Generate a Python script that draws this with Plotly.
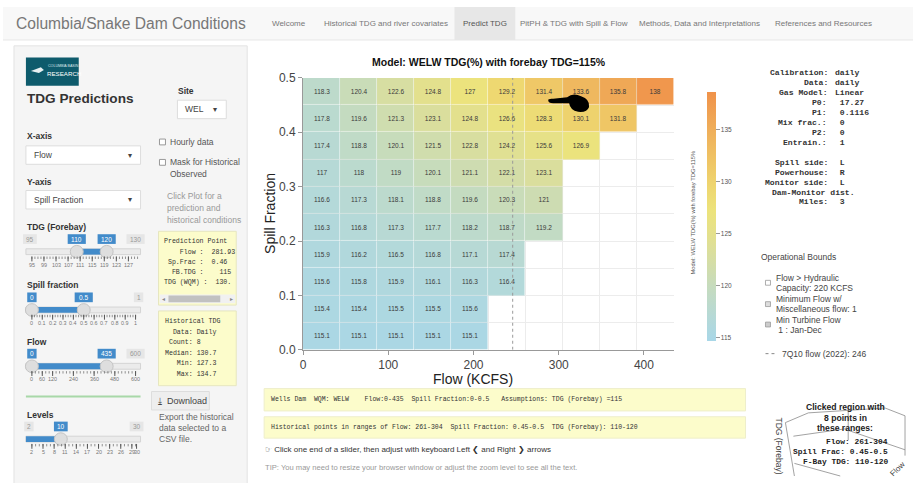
import plotly.graph_objects as go

W, H = 913, 483
SANS = "Liberation Sans, Arial, sans-serif"
MONO = "Liberation Mono, Courier New, monospace"

# ---------------- model grid (Wells Dam, WQM WELW, forebay TDG 115 %) ----------------
flow_edges = [0, 43.5, 87, 130.5, 174, 217.5, 261, 304.5, 348, 391.5, 435]
spill_edges = [0.0, 0.05, 0.10, 0.15, 0.20, 0.25, 0.30, 0.35, 0.40, 0.45, 0.50]

# predicted tailwater TDG (%) for each spill-fraction band, flow bins left to right
tdg_spill_00 = [115.1, 115.1, 115.1, 115.1, 115.1]
tdg_spill_05 = [115.4, 115.4, 115.5, 115.5, 115.6]
tdg_spill_10 = [115.6, 115.8, 115.9, 116.1, 116.3, 116.4]
tdg_spill_15 = [115.9, 116.2, 116.5, 116.8, 117.1, 117.4]
tdg_spill_20 = [116.3, 116.8, 117.3, 117.7, 118.2, 118.7, 119.2]
tdg_spill_25 = [116.6, 117.3, 118.1, 118.8, 119.6, 120.3, 121]
tdg_spill_30 = [117, 118, 119, 120.1, 121.1, 122.1, 123.1]
tdg_spill_35 = [117.4, 118.8, 120.1, 121.5, 122.8, 124.2, 125.6, 126.9]
tdg_spill_40 = [117.8, 119.6, 121.3, 123.1, 124.8, 126.6, 128.3, 130.1, 131.8]
tdg_spill_45 = [118.3, 120.4, 122.6, 124.8, 127, 129.2, 131.4, 133.6, 135.8, 138]

x_ticks = [0, 100, 200, 300, 400]
y_ticks = [0.0, 0.1, 0.2, 0.3, 0.4, 0.5]
cbar_ticks = [115, 120, 125, 130, 135]
flow_7q10 = 246

calibration = [("Calibration:", "daily"), ("Data:", "daily"), ("Gas Model:", "Linear"),
               ("P0:", " 17.27"), ("P1:", " 0.1116"), ("Mix frac.:", " 0"),
               ("P2:", " 0"), ("Entrain.:", " 1")]
site_layout = [("Spill side:", " L"), ("Powerhouse:", " R"), ("Monitor side:", " L"),
               ("Dam-Monitor dist.", ""), ("Miles:", " 3")]

flow_mid = [(a + b) / 2 for a, b in zip(flow_edges[:-1], flow_edges[1:])]
spill_mid = [round((a + b) / 2, 3) for a, b in zip(spill_edges[:-1], spill_edges[1:])]
rows = [tdg_spill_00, tdg_spill_05, tdg_spill_10, tdg_spill_15, tdg_spill_20,
        tdg_spill_25, tdg_spill_30, tdg_spill_35, tdg_spill_40, tdg_spill_45]
z = [r + [None] * (len(flow_mid) - len(r)) for r in rows]

colorscale = [[0.0, "#a8d7e8"], [0.1, "#b6d9d6"], [0.2, "#c3dbc2"], [0.3, "#d2ddaa"],
              [0.42, "#e3e08e"], [0.52, "#ece37c"], [0.62, "#eed670"],
              [0.72, "#efc565"], [0.85, "#efae5a"], [1.0, "#f0924a"]]

fig = go.Figure()
fig.add_trace(go.Heatmap(
    x=flow_mid, y=spill_mid, z=z, zmin=114.6, zmax=138.6,
    colorscale=colorscale, xgap=0.5, ygap=0.5, hoverongaps=False,
    texttemplate="%{z}", textfont=dict(size=6.5, color="#3a3a3a", family=SANS),
    colorbar=dict(x=706 / W, xanchor="left", y=1 - 88 / H, yanchor="top",
                  lenmode="pixels", len=249, thicknessmode="pixels", thickness=9,
                  outlinewidth=0, ticks="outside", ticklen=4, tickcolor="#999",
                  tickvals=cbar_ticks, tickfont=dict(size=6.5, color="#555", family=SANS),
                  xpad=0, ypad=0),
))

shapes, notes = [], []


def px(x):
    return x / W


def py(y):
    return 1 - y / H


def rect(x0, y0, x1, y1, fill, line=None, lw=1):
    shapes.append(dict(type="rect", xref="paper", yref="paper",
                       x0=px(x0), x1=px(x1), y0=py(y0), y1=py(y1), fillcolor=fill,
                       line=dict(color=line or fill, width=lw if line else 0)))


def seg(x0, y0, x1, y1, color="#999", lw=1, dash="solid"):
    shapes.append(dict(type="line", xref="paper", yref="paper",
                       x0=px(x0), x1=px(x1), y0=py(y0), y1=py(y1),
                       line=dict(color=color, width=lw, dash=dash)))


def circle(cx, cy, r, fill, line):
    shapes.append(dict(type="circle", xref="paper", yref="paper",
                       x0=px(cx - r), x1=px(cx + r), y0=py(cy + r), y1=py(cy - r),
                       fillcolor=fill, line=dict(color=line, width=1)))


def txt(x, y, s, size=9, color="#333", anchor="left", bold=False, family=SANS, angle=0):
    if bold:
        s = "<b>" + s + "</b>"
    notes.append(dict(x=px(x), y=py(y), xref="paper", yref="paper", text=s,
                      showarrow=False, xanchor=anchor, yanchor="middle", textangle=angle,
                      font=dict(size=size, color=color, family=family), borderpad=0))


def mono(x, y, s, size=6.6, color="#333", bold=False, anchor="left"):
    txt(x, y, s.replace(" ", "\u00a0"), size=size, color=color, family=MONO,
        bold=bold, anchor=anchor)


# ---------------- navbar ----------------
rect(0, 0, W, 34, "#f8f8f8")
seg(0, 34, W, 34, "#e7e7e7")
rect(453, 0, 514, 34, "#e7e7e7")
txt(12, 17, "Columbia/Snake Dam Conditions", size=15.6, color="#777")
tabs = [("Welcome", 287), ("Historical TDG and river covariates", 384), ("Predict TDG", 484),
        ("PitPH & TDG with Spill & Flow", 573), ("Methods, Data and Interpretations", 699),
        ("References and Resources", 823)]
for name, cx in tabs:
    txt(cx, 17, name, size=8, color="#555" if name == "Predict TDG" else "#777",
        anchor="center")

# ---------------- sidebar ----------------
rect(11, 40, 245, 492, "#f5f5f5", "#e3e3e3")
rect(23, 52, 76, 81, "#0e5b6c")
txt(44, 61, "COLUMBIA BASIN", size=3.6, color="#dfe9ec")
txt(43, 68, "RESEARCH", size=6.2, color="#ffffff")
shapes.append(dict(type="path", xref="paper", yref="paper",
                   path=f"M {px(28)} {py(66)} L {px(38)} {py(62)} L {px(41)} {py(65)} "
                        f"L {px(36)} {py(68)} Z", fillcolor="#e8f0f2", line=dict(width=0)))
txt(23, 94, "TDG Predictions", size=13.6, color="#333", bold=True)

txt(175, 87, "Site", size=8.5, bold=True)
rect(175, 96, 224, 115, "#ffffff", "#dddddd")
txt(182, 105.5, "WEL", size=8.5, color="#444")
txt(213, 105.5, "\u25be", size=8, color="#444", anchor="center")

for label, ly, by0, by1, val in [("X-axis", 133, 143, 162, "Flow"),
                                 ("Y-axis", 180, 189, 208, "Spill Fraction")]:
    txt(23, ly, label, size=8.5, bold=True)
    rect(23, by0, 138, by1, "#ffffff", "#dddddd")
    txt(30, (by0 + by1) / 2, val, size=8.5, color="#444")
    txt(127, (by0 + by1) / 2, "\u25be", size=8, color="#444", anchor="center")

rect(157, 136, 163, 142, "#ffffff", "#999999")
txt(167, 139, "Hourly data", size=8.5, color="#555")
rect(157, 157, 163, 163, "#ffffff", "#999999")
txt(167, 160, "Mask for Historical", size=8.5, color="#555")
txt(167, 172, "Observed", size=8.5, color="#555")
for i, line in enumerate(["Click Plot for a", "prediction and", "historical conditions"]):
    txt(164, 195 + 12 * i, line, size=8.5, color="#999")

BLUE = "#428bca"


def pill(cx, cy, s, blue):
    w = 4.4 * len(s) + 5
    rect(cx - w / 2, cy - 5, cx + w / 2, cy + 5, BLUE if blue else "#e6e6e6")
    txt(cx, cy, s, size=6.5, color="#ffffff" if blue else "#999", anchor="center")


def slider(title, ty, pills, track_y, x0, x1, bar, handles, labels, n_minor):
    txt(23, ty, title, size=8.5, bold=True)
    rect(23, track_y - 3, 138, track_y + 3, "#ebebeb", "#d4d4d4")
    rect(bar[0], track_y - 3, bar[1], track_y + 3, BLUE)
    for (cx, s, blue) in pills:
        pill(cx, track_y - 13, s, blue)
    for h in handles:
        circle(h, track_y, 6.5, "#dedede", "#c4c4c4")
    step = (x1 - x0) / n_minor
    for k in range(n_minor + 1):
        xx = x0 + k * step
        seg(xx, track_y + 5, xx, track_y + 7.5, "#777", 0.8)
    for (lx, s) in labels:
        seg(lx, track_y + 5, lx, track_y + 10, "#555", 1)
        txt(lx, track_y + 13.5, s, size=5.4, color="#777", anchor="center")


slider("TDG (Forebay)", 227, [(27, "95", False), (74, "110", True), (104, "120", True),
                              (133, "130", False)],
       252, 29, 135, (74, 104), [74, 104],
       [(29 + 12.1 * i, s) for i, s in enumerate(
           ["95", "99", "103", "107", "111", "115", "119", "123", "127"])], 35)
slider("Spill fraction", 286, [(29, "0", True), (81, "0.5", True), (136, "1", False)],
       312, 29, 133, (29, 81), [29, 81],
       [(29 + 10.4 * i, s) for i, s in enumerate(
           ["0", "0.1", "0.2", "0.3", "0.4", "0.5", "0.6", "0.7", "0.8", "0.9", "1"])], 40)
slider("Flow", 345, [(29, "0", True), (104, "435", True), (133, "600", False)],
       370, 29, 133, (29, 104), [29, 104],
       [(29 + 104 * v / 600, str(v)) for v in [0, 60, 120, 240, 360, 480, 600]], 30)
seg(23, 401, 138, 401, "#a8d8a8", 2)
slider("Levels", 420, [(26, "2", False), (58, "10", True), (134, "30", False)],
       445, 29, 133, (23, 58), [58],
       [(29 + 104 * (v - 2) / 28, str(v)) for v in [2, 5, 8, 11, 14, 17, 20, 23, 26, 29]]
       + [(134, "30")], 28)

# prediction point box
rect(156, 231, 234, 307, "#fcfccb", "#e6e6c0")
pred_lines = ["Prediction Point", "    Flow :  281.93", " Sp.Frac :  0.46",
              "  FB.TDG :    115", "TDG (WQM) :  130."]
for i, s in enumerate(pred_lines):
    mono(161, 242 + 10.5 * i, s)
rect(157, 296, 233, 305, "#f1f1f1")
rect(166, 297, 218, 304, "#c1c1c1")
txt(161, 300.5, "\u25c2", size=6, color="#888", anchor="center")
txt(229, 300.5, "\u25b8", size=6, color="#888", anchor="center")

# historical TDG box
rect(156, 313, 234, 390, "#fcfccb", "#e6e6c0")
hist_lines = ["Historical TDG", "  Data: Daily", " Count: 8", "Median: 130.7",
              "   Min: 127.3", "   Max: 134.7"]
for i, s in enumerate(hist_lines):
    mono(162, 324 + 10.8 * i, s)

rect(149, 396, 207, 415, "#eeeeee", "#dddddd")
txt(155, 406, "\u2913", size=9, color="#444")
txt(164, 406, "Download", size=9, color="#444")
for i, line in enumerate(["Export the historical", "data selected to a", "CSV file."]):
    txt(156, 422 + 11.7 * i, line, size=8.5, color="#666")

# ---------------- right-hand notes ----------------
for i, (k, v) in enumerate(calibration):
    yy = 67 + 10.3 * i
    mono(829 if i < 3 else 828, yy, k, size=8.1, bold=True, anchor="right")
    mono(834, yy, v, size=8.1, bold=True)
for i, (k, v) in enumerate(site_layout):
    yy = 160 + 10.2 * i
    if v:
        mono(829, yy, k, size=8.1, bold=True, anchor="right")
        mono(834, yy, v, size=8.1, bold=True)
    else:
        mono(771, yy, k, size=8.1, bold=True)

txt(759, 257, "Operational Bounds", size=8.5, color="#444")
bounds = [("Flow > Hydraulic", "Capacity: 220 KCFS", "#ffffff", 279),
          ("Minimum Flow w/", "Miscellaneous flow: 1", "#dddddd", 301),
          ("Min Turbine Flow", " 1 : Jan-Dec", "#cccccc", 322)]
for l1, l2, fill, yy in bounds:
    rect(765, yy + 2.5, 770, yy + 7.5, fill, "#999999", 0.8)
    txt(775, yy, l1, size=8.5, color="#444")
    txt(775, yy + 10.5, l2, size=8.5, color="#444")
seg(765, 357, 774, 357, "#888", 1, "dot")
txt(781, 357, f"7Q10 flow (2022): {flow_7q10}", size=8.5, color="#444")

# colorbar caption
txt(692, 212, "Model: WELW TDG(%) with forebay TDG=115%", size=5.8, color="#555",
    anchor="center", angle=-90)

# ---------------- bottom info strips ----------------
rect(262, 393, 745, 416, "#fcfccb", "#eeeeca")
mono(268, 404.5, "Wells Dam  WQM: WELW    Flow:0-435  Spill Fraction:0-0.5   "
                 "Assumptions: TDG (Forebay) =115", size=6.5)
rect(262, 422, 745, 444, "#fcfccb", "#eeeeca")
mono(268, 433, "Historical points in ranges of Flow: 261-304  Spill Fraction: 0.45-0.5  "
               "TDG (Forebay): 110-120", size=6.5)
txt(262, 456, "\u261e Click one end of a slider, then adjust with keyboard Left "
              "\u276e and Right \u276f arrows", size=8, color="#333")
txt(262, 474, "TIP: You may need to resize your browser window or adjust the zoom level "
              "to see all the text.", size=7.6, color="#999")

# ---------------- clicked-region 3D sketch ----------------
for (a, b, c, d) in [(785, 428, 808, 418), (808, 418, 885, 413), (885, 413, 905, 421),
                     (785, 428, 794, 483), (793, 442, 848, 434), (848, 413, 848, 446),
                     (848, 436, 905, 456), (905, 421, 905, 462), (794, 470, 840, 483)]:
    seg(a, b, c, d, "#8a8a8a", 0.8)
for i, s in enumerate(["Clicked region with", "8 points in", "these ranges:"]):
    txt(845, 412 + 10.8 * i, s, size=8.6, color="#222", anchor="center", bold=True)
for i, s in enumerate(["Flow: 261-304", "Spill Frac: 0.45-0.5", "F-Bay TDG: 110-120"]):
    mono(889, 447 + 10.5 * i, s, size=7.9, color="#222", bold=True, anchor="right")
txt(779, 452, "TDG (Forebay)", size=8.5, color="#444", anchor="center", angle=90)
txt(897, 476, "Flow", size=8, color="#444", anchor="center", angle=-45)

# ---------------- main plot decorations ----------------
shapes.append(dict(type="line", xref="x", yref="y", x0=flow_7q10, x1=flow_7q10,
                   y0=spill_edges[0], y1=spill_edges[-1],
                   line=dict(color="#999", width=1, dash="dot")))
# pointer over the clicked cell
shapes.append(dict(type="path", xref="paper", yref="paper",
                   path=f"M {px(547)} {py(96)} Q {px(547)} {py(94)} {px(552)} {py(94.5)} "
                        f"L {px(566)} {py(93)} Q {px(572)} {py(88)} {px(580)} {py(92)} "
                        f"Q {px(589)} {py(95)} {px(588)} {py(103)} "
                        f"Q {px(586)} {py(109)} {px(577)} {py(108)} "
                        f"Q {px(569)} {py(106)} {px(568)} {py(99)} "
                        f"L {px(552)} {py(99)} Q {px(547)} {py(99)} {px(547)} {py(96)} Z",
                   fillcolor="#000000", line=dict(width=0)))
txt(488, 57, "Model: WELW TDG(%) with forebay TDG=115%", size=10.5, color="#111",
    anchor="center", bold=True)
txt(268, 213, "Spill Fraction", size=14, color="#222", anchor="center", angle=-90)
txt(472, 383, "Flow (KCFS)", size=14, color="#222", anchor="center")

axis_common = dict(showline=True, linecolor="#999", linewidth=1, ticks="outside",
                   ticklen=4, tickcolor="#999", tickfont=dict(size=12, color="#444",
                                                              family=SANS),
                   zeroline=False)
fig.update_layout(
    width=W, height=H, autosize=False, margin=dict(l=0, r=0, t=0, b=0),
    paper_bgcolor="#ffffff", plot_bgcolor="#ffffff", showlegend=False,
    font=dict(family=SANS),
    xaxis=dict(domain=[301 / W, 673 / W], range=[flow_edges[0], flow_edges[-1]],
               tickvals=x_ticks, showgrid=False,
               minor=dict(tick0=0, dtick=flow_edges[1] - flow_edges[0], showgrid=True,
                          gridcolor="#ececec", gridwidth=1, ticks=""),
               **axis_common),
    yaxis=dict(domain=[py(353), py(73)], range=[spill_edges[0], spill_edges[-1]],
               tickvals=y_ticks, tickformat=".1f", showgrid=True, gridcolor="#ececec",
               minor=dict(tick0=0, dtick=0.05, showgrid=True, gridcolor="#ececec",
                          ticks=""),
               **axis_common),
    shapes=shapes, annotations=notes,
)

fig.write_html("out.html", config={"displayModeBar": False})
